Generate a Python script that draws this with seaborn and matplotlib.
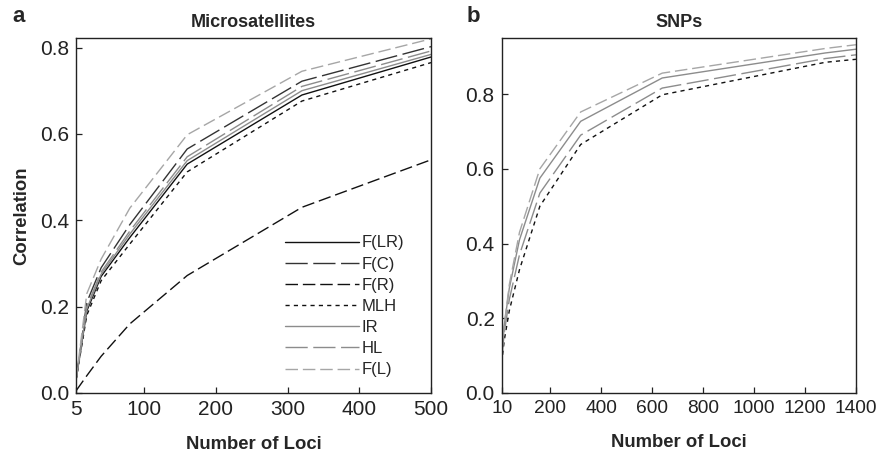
import numpy as np
import pandas as pd
import seaborn as sns
import matplotlib as mpl
mpl.use('Agg')
import matplotlib.pyplot as plt

#%% data
methods = ['F(LR)', 'F(C)', 'F(R)', 'MLH', 'IR', 'HL', 'F(L)']

loci_msat = [5, 20, 40, 80, 160, 320, 500]
msat_FLR = [0.03, 0.19, 0.27, 0.360, 0.530, 0.690, 0.778]
msat_FC = [0.03, 0.21, 0.29, 0.390, 0.565, 0.722, 0.802]
msat_FR = [0.005, 0.04, 0.085, 0.160, 0.272, 0.430, 0.540]
msat_MLH = [0.03, 0.18, 0.26, 0.345, 0.512, 0.676, 0.765]
msat_IR = [0.03, 0.195, 0.275, 0.368, 0.538, 0.700, 0.784]
msat_HL = [0.03, 0.20, 0.28, 0.375, 0.547, 0.710, 0.792]
msat_FL = [0.03, 0.23, 0.31, 0.428, 0.598, 0.745, 0.820]

loci_snp = [10, 20, 40, 80, 160, 320, 640, 1280, 1400]
snp_FL = [0.10, 0.18, 0.29, 0.43, 0.600, 0.752, 0.856, 0.922, 0.932]
snp_IR = [0.10, 0.18, 0.28, 0.41, 0.575, 0.727, 0.843, 0.910, 0.920]
snp_HL = [0.09, 0.16, 0.25, 0.37, 0.535, 0.690, 0.816, 0.895, 0.905]
snp_MLH = [0.08, 0.14, 0.22, 0.33, 0.500, 0.665, 0.798, 0.885, 0.893]

#%% styles
styles = {
    'F(LR)': dict(color='#111111', ls='-'),
    'F(C)': dict(color='#333333', ls=(0, (16, 4))),
    'F(R)': dict(color='#111111', ls=(0, (9, 3.5))),
    'MLH': dict(color='#111111', ls=(0, (3, 3))),
    'IR': dict(color='#8c8c8c', ls='-'),
    'HL': dict(color='#8c8c8c', ls=(0, (16, 4))),
    'F(L)': dict(color='#a6a6a6', ls=(0, (9, 3.5))),
}

sns.set_style('ticks')
plt.rcParams['font.family'] = ['Liberation Sans', 'DejaVu Sans']
plt.rcParams['xtick.direction'] = 'in'
plt.rcParams['ytick.direction'] = 'in'

fig = plt.figure(figsize=(8.77, 4.54), dpi=100)
ax1 = fig.add_axes([0.0867, 0.1344, 0.4048, 0.7819])
ax2 = fig.add_axes([0.572, 0.1344, 0.404, 0.7819])

msat = {'F(LR)': msat_FLR, 'F(C)': msat_FC, 'F(R)': msat_FR, 'MLH': msat_MLH,
        'IR': msat_IR, 'HL': msat_HL, 'F(L)': msat_FL}
for m in methods:
    sns.lineplot(x=loci_msat, y=msat[m], ax=ax1, label=m, linewidth=1.0,
                 color=styles[m]['color'], linestyle=styles[m]['ls'])

snp = {'MLH': snp_MLH, 'HL': snp_HL, 'IR': snp_IR, 'F(L)': snp_FL}
for m in ['MLH', 'HL', 'IR', 'F(L)']:
    sns.lineplot(x=loci_snp, y=snp[m], ax=ax2, linewidth=1.0,
                 color=styles[m]['color'], linestyle=styles[m]['ls'])

ax1.set_xlim(5, 500)
ax1.set_ylim(0, 0.822)
ax1.set_xticks([5, 100, 200, 300, 400, 500])
ax1.set_yticks([0.0, 0.2, 0.4, 0.6, 0.8])
ax1.set_yticklabels(['0.0', '0.2', '0.4', '0.6', '0.8'])

ax2.set_xlim(10, 1400)
ax2.set_ylim(0, 0.95)
ax2.set_xticks([10, 200, 400, 600, 800, 1000, 1200, 1400])
ax2.set_yticks([0.0, 0.2, 0.4, 0.6, 0.8])
ax2.set_yticklabels(['0.0', '0.2', '0.4', '0.6', '0.8'])

for ax in (ax1, ax2):
    for s in ax.spines.values():
        s.set_linewidth(1.0)
        s.set_color('#222222')
        s.set_visible(True)
    ax.tick_params(axis='both', labelsize=15, length=4, width=0.9,
                   color='#222222', pad=5, labelcolor='#222222')
    ax.set_xlabel('Number of Loci', fontsize=13.3, fontweight='bold', labelpad=12)
ax2.tick_params(axis='x', labelsize=13.8)

ax1.set_ylabel('Correlation', fontsize=13.3, fontweight='bold', labelpad=7)
ax2.set_ylabel('')
ax1.set_title('Microsatellites', fontsize=13, fontweight='bold', pad=8)
ax2.set_title('SNPs', fontsize=13, fontweight='bold', pad=8)

fig.text(0.014, 0.952, 'a', fontsize=16, fontweight='bold')
fig.text(0.532, 0.952, 'b', fontsize=16, fontweight='bold')

leg = ax1.legend(loc='lower right', bbox_to_anchor=(0.942, 0.025), frameon=False,
                 fontsize=12, handlelength=4.4, handletextpad=0.15,
                 labelspacing=0.37, borderaxespad=0)

fig.savefig('out.png', dpi=100)
